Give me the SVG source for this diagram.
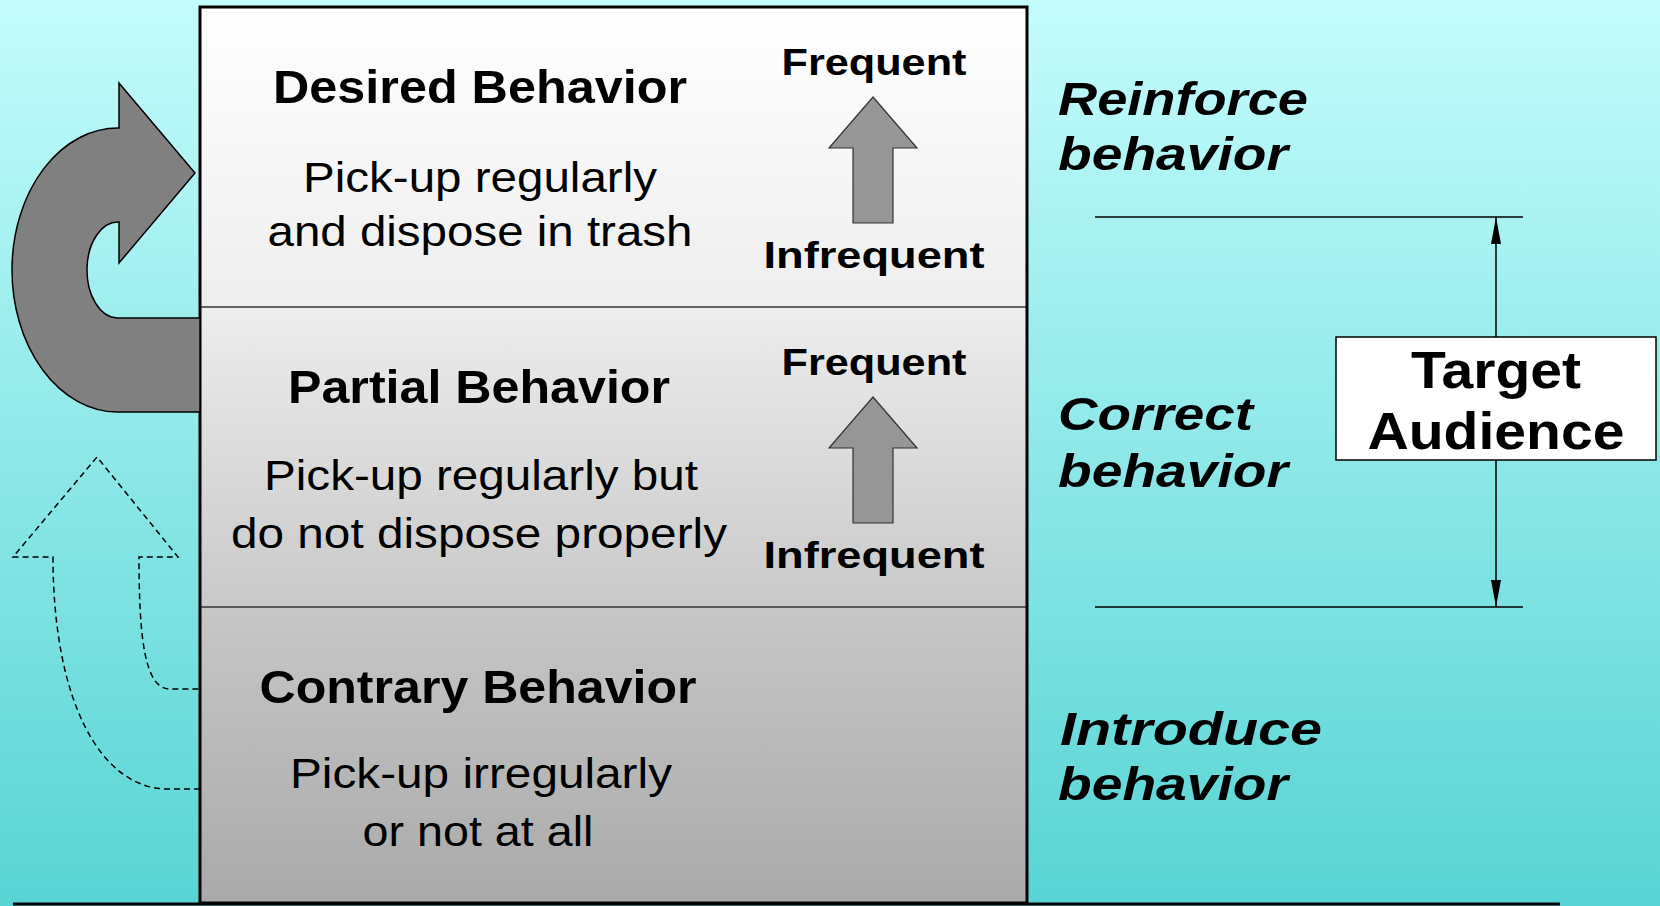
<svg xmlns="http://www.w3.org/2000/svg" width="1660" height="906" viewBox="0 0 1660 906">
<defs>
<linearGradient id="bg" x1="0" y1="0" x2="0" y2="1">
<stop offset="0" stop-color="#C4FCFC"/>
<stop offset="1" stop-color="#58D4D4"/>
</linearGradient>
<linearGradient id="g1" x1="0" y1="0" x2="0" y2="1">
<stop offset="0" stop-color="#FFFFFF"/>
<stop offset="1" stop-color="#EEEEEE"/>
</linearGradient>
<linearGradient id="g2" x1="0" y1="0" x2="0" y2="1">
<stop offset="0" stop-color="#EDEDED"/>
<stop offset="1" stop-color="#C9C9C9"/>
</linearGradient>
<linearGradient id="g3" x1="0" y1="0" x2="0" y2="1">
<stop offset="0" stop-color="#C7C7C7"/>
<stop offset="1" stop-color="#AAAAAA"/>
</linearGradient>
<marker id="ah" viewBox="0 0 27 10" refX="27" refY="5" markerWidth="27" markerHeight="10" markerUnits="userSpaceOnUse" orient="auto">
<path d="M0,0 L27,5 L0,10 Z" fill="#000"/>
</marker>
<path id="upArrow" d="M0,0 L44,51 L20,51 L20,126 L-20,126 L-20,51 L-44,51 Z"/>
</defs>
<style>
.t{font-family:"Liberation Sans",Arial,sans-serif;fill:#000}
.h{font-size:46px;font-weight:bold;text-anchor:middle}
.b{font-size:42px;text-anchor:middle}
.f{font-size:36px;font-weight:bold;text-anchor:middle}
.r{font-size:46px;font-weight:bold;font-style:italic}
.ta{font-size:52px;font-weight:bold;text-anchor:middle}
.arr{fill:#969696;stroke:#333;stroke-width:1.2}
.div{stroke:#333;stroke-width:1.5}
</style>
<rect x="0" y="0" width="1660" height="906" fill="url(#bg)"/>

<g id="desired">
<rect x="200" y="7" width="827" height="300" fill="url(#g1)"/>
<text class="t h" x="480" y="103" textLength="414" lengthAdjust="spacingAndGlyphs">Desired Behavior</text>
<text class="t b" x="480" y="192" textLength="354" lengthAdjust="spacingAndGlyphs">Pick-up regularly</text>
<text class="t b" x="480" y="246" textLength="425" lengthAdjust="spacingAndGlyphs">and dispose in trash</text>
<text class="t f" x="874" y="75" textLength="185" lengthAdjust="spacingAndGlyphs">Frequent</text>
<use href="#upArrow" x="873" y="97" class="arr"/>
<text class="t f" x="874" y="268" textLength="221" lengthAdjust="spacingAndGlyphs">Infrequent</text>
</g>

<g id="partial">
<rect x="200" y="307" width="827" height="300" fill="url(#g2)"/>
<text class="t h" x="479" y="403" textLength="382" lengthAdjust="spacingAndGlyphs">Partial Behavior</text>
<text class="t b" x="481" y="490" textLength="434" lengthAdjust="spacingAndGlyphs">Pick-up regularly but</text>
<text class="t b" x="479" y="548" textLength="496" lengthAdjust="spacingAndGlyphs">do not dispose properly</text>
<text class="t f" x="874" y="375" textLength="185" lengthAdjust="spacingAndGlyphs">Frequent</text>
<use href="#upArrow" x="873" y="397" class="arr"/>
<text class="t f" x="874" y="568" textLength="221" lengthAdjust="spacingAndGlyphs">Infrequent</text>
</g>

<g id="contrary">
<rect x="200" y="607" width="827" height="296" fill="url(#g3)"/>
<text class="t h" x="478" y="703" textLength="437" lengthAdjust="spacingAndGlyphs">Contrary Behavior</text>
<text class="t b" x="481" y="788" textLength="382" lengthAdjust="spacingAndGlyphs">Pick-up irregularly</text>
<text class="t b" x="478" y="846" textLength="231" lengthAdjust="spacingAndGlyphs">or not at all</text>
</g>

<g id="frame">
<line class="div" x1="200" y1="307" x2="1027" y2="307"/>
<line class="div" x1="200" y1="607" x2="1027" y2="607"/>
<rect x="200" y="7" width="827" height="896" fill="none" stroke="#000" stroke-width="3"/>
<line x1="13" y1="904" x2="1560" y2="904" stroke="#000" stroke-width="3"/>
</g>

<g id="reinforce">
<text class="t r" x="1058" y="115" textLength="250" lengthAdjust="spacingAndGlyphs">Reinforce</text>
<text class="t r" x="1058" y="170" textLength="230" lengthAdjust="spacingAndGlyphs">behavior</text>
</g>
<g id="correct">
<text class="t r" x="1058" y="430" textLength="195" lengthAdjust="spacingAndGlyphs">Correct</text>
<text class="t r" x="1058" y="487" textLength="230" lengthAdjust="spacingAndGlyphs">behavior</text>
</g>
<g id="introduce">
<text class="t r" x="1060" y="745" textLength="262" lengthAdjust="spacingAndGlyphs">Introduce</text>
<text class="t r" x="1058" y="800" textLength="230" lengthAdjust="spacingAndGlyphs">behavior</text>
</g>

<g id="target">
<rect x="1336" y="337" width="320" height="123" fill="#FFFFFF" stroke="#000" stroke-width="1.5"/>
<text class="t ta" x="1496" y="388" textLength="170" lengthAdjust="spacingAndGlyphs">Target</text>
<text class="t ta" x="1496" y="449" textLength="257" lengthAdjust="spacingAndGlyphs">Audience</text>
</g>

<g id="connectors" fill="none" stroke="#000">
<path d="M195,173 L119,83 L119,128 A106,142 0 0 0 117,412 L200,412 L200,318 L117,318 A31,48 0 0 1 119,222 L119,263 Z" fill="#808080" stroke-width="1.5" stroke-linejoin="miter"/>
<path d="M200,789 L168,789 C100,789 53,700 53,557 L13,557 L97,457 L178,557 L139,557 C139,640 145,689 170,689 L200,689" stroke-width="1.5" stroke-dasharray="6,4"/>
<line x1="1095" y1="217" x2="1523" y2="217" stroke-width="1.5"/>
<line x1="1095" y1="607" x2="1523" y2="607" stroke-width="1.5"/>
<line x1="1496" y1="337" x2="1496" y2="217" stroke-width="1.5" marker-end="url(#ah)"/>
<line x1="1496" y1="460" x2="1496" y2="607" stroke-width="1.5" marker-end="url(#ah)"/>
</g>
</svg>
